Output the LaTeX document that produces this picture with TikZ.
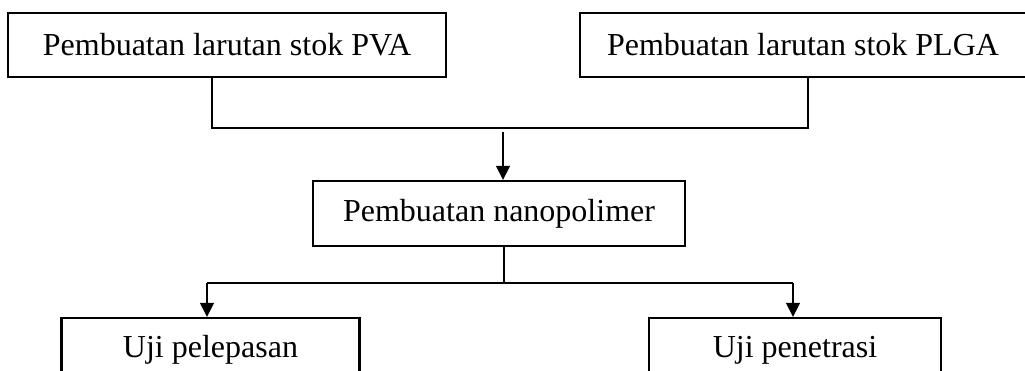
\documentclass[tikz,border=0pt]{standalone}
\usepackage{fontspec}
\setmainfont{Liberation Serif}
\usepackage{tikz}
\usetikzlibrary{arrows.meta,positioning,calc}
\tikzset{
  blok/.style={draw, line width=2.3pt, inner sep=0pt, minimum height=64pt, font=\fontsize{32}{38}\selectfont},
  garis/.style={line width=1.3pt},
  panah/.style={garis, -{Triangle[length=14pt,width=14pt]}}
}

\begin{document}
\begin{tikzpicture}[x=1pt, y=-1pt]
\useasboundingbox (0,0) rectangle (1025,371);
\node[blok, minimum width=438pt] (pva) at (227,45) {Pembuatan larutan stok PVA};
\node[blok, minimum width=446pt] (plga) at (803,45) {Pembuatan larutan stok PLGA};
\node[blok, minimum width=372pt, minimum height=65pt] (nano) at (499,213.5) {Pembuatan nanopolimer};
\node[blok, minimum width=298pt] (lepas) at (210.5,350) {Uji pelepasan};
\node[blok, minimum width=292pt] (tembus) at (795,350) {Uji penetrasi};
% gabungan kedua stok
\coordinate (kiri) at (212,128);
\coordinate (kanan) at (808,128);
\coordinate (masuk) at (503,132);
\draw[garis] (pva.south -| kiri) -- (kiri) -- (kanan) -- (plga.south -| kanan);
\draw[panah] (masuk) -- (masuk |- nano.north);
% cabang ke pengujian
\coordinate (tengah) at (504,283);
\coordinate (cabkiri) at (207,283);
\coordinate (cabkanan) at (793,283);
\draw[garis] (nano.south -| tengah) -- (tengah);
\draw[garis] (cabkiri) -- (cabkanan);
\draw[panah] (cabkiri) -- (cabkiri |- lepas.north);
\draw[panah] (cabkanan) -- (cabkanan |- tembus.north);
\end{tikzpicture}
\end{document}
